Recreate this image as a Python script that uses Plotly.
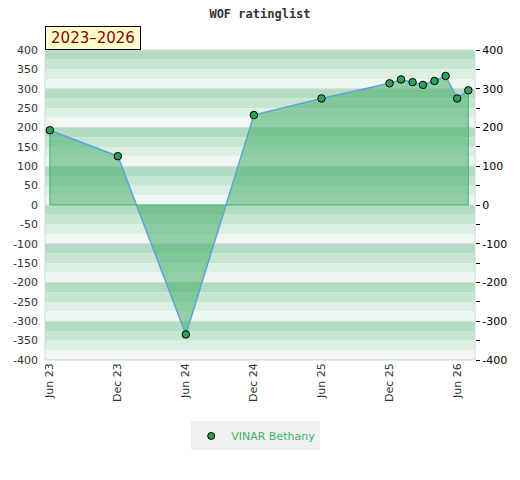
import plotly.graph_objects as go

# monthly rating values
dates = ["2023-06-01", "2023-12-01", "2024-06-01", "2024-12-01", "2025-06-01",
         "2025-12-01", "2026-01-01", "2026-02-01", "2026-03-01", "2026-04-01",
         "2026-05-01", "2026-06-01", "2026-07-01"]
ratings = [193, 126, -334, 232, 275, 314, 324, 317, 310, 320, 333, 275, 296]

player = "VINAR Bethany"
period = "2023\u20132026"

tick_dates = ["2023-06-01", "2023-12-01", "2024-06-01", "2024-12-01",
              "2025-06-01", "2025-12-01", "2026-06-01"]
tick_labels = ["Jun 23", "Dec 23", "Jun 24", "Dec 24", "Jun 25", "Dec 25", "Jun 26"]

left_ticks = list(range(-400, 401, 50))
right_ticks = list(range(-400, 401, 100))

band_colors = ["#b3ddc2", "#c7e6d2", "#dcefe3", "#eff7f2"]  # top to bottom in each 100

fig = go.Figure()

# area + line
fig.add_trace(go.Scatter(
    x=dates, y=ratings, mode="lines", fill="tozeroy",
    fillcolor="rgba(70,175,105,0.55)",
    line=dict(color="#5ea3dc", width=1.5),
    showlegend=False, hoverinfo="skip",
))
# green edge of the filled area (baseline and end verticals)
fig.add_trace(go.Scatter(
    x=[dates[0], dates[0], dates[-1], dates[-1]],
    y=[ratings[0], 0, 0, ratings[-1]],
    mode="lines", line=dict(color="#3cb371", width=1),
    showlegend=False, hoverinfo="skip",
))
fig.add_trace(go.Scatter(
    x=dates, y=ratings, mode="markers",
    marker=dict(color="#2e9e5b", size=7.5, line=dict(color="black", width=1)),
    name=player, showlegend=False,
))
# legend entry (marker only)
fig.add_trace(go.Scatter(
    x=[None], y=[None], mode="markers",
    marker=dict(color="#2e9e5b", size=7, line=dict(color="black", width=1)),
    name=player,
))
# invisible trace to carry the right axis
fig.add_trace(go.Scatter(
    x=[dates[0]], y=[0], yaxis="y2", mode="markers",
    marker=dict(opacity=0), showlegend=False, hoverinfo="skip",
))

shapes = []
for top in range(400, -400, -25):
    idx = ((400 - top) // 25) % 4
    shapes.append(dict(type="rect", xref="paper", yref="y", x0=0, x1=1,
                       y0=top - 25, y1=top, fillcolor=band_colors[idx],
                       line=dict(width=0), layer="below"))
for v in right_ticks:
    shapes.append(dict(type="line", xref="paper", yref="y", x0=0, x1=1,
                       y0=v, y1=v, line=dict(color="#dadada", width=1),
                       layer="below"))
shapes.append(dict(type="rect", xref="paper", yref="paper", x0=0, x1=1,
                   y0=0, y1=1, line=dict(color="#d6d6d6", width=1),
                   layer="below"))

fig.update_layout(
    width=520, height=480,
    margin=dict(l=45, r=45, t=50, b=120),
    paper_bgcolor="white", plot_bgcolor="white",
    font=dict(family="DejaVu Sans", size=11, color="#333333"),
    title=dict(text="<b>WOF ratinglist</b>", x=0.5, xanchor="center",
               y=0.971, yanchor="middle",
               font=dict(family="DejaVu Sans Mono", size=12, color="#333333")),
    xaxis=dict(type="date", range=["2023-05-19", "2026-07-19"],
               tickvals=tick_dates, ticktext=tick_labels, tickangle=-90,
               showgrid=False, zeroline=False, showline=False, ticks=""),
    yaxis=dict(range=[-400, 400], tickvals=left_ticks,
               ticktext=[str(v) for v in left_ticks],
               showgrid=False, zeroline=False, ticks="",
               ticklabelstandoff=6),
    yaxis2=dict(range=[-400, 400], overlaying="y", side="right",
                tickvals=right_ticks, ticktext=[str(v) for v in right_ticks],
                ticks="outside", ticklen=4, tickcolor="black",
                minor=dict(ticks="outside", ticklen=4, tickcolor="black",
                           tickvals=[v + 50 for v in right_ticks[:-1]]),
                showgrid=False, zeroline=False, showline=False,
                tickfont=dict(color="black", size=11)),
    shapes=shapes,
    legend=dict(orientation="h", x=0.49, xanchor="center", y=-0.245,
                yanchor="middle", bgcolor="#f0f0f0", itemwidth=30,
                font=dict(color="#3cb371", size=11)),
    annotations=[dict(text=period, xref="paper", yref="paper", x=0, y=1,
                      xanchor="left", yanchor="bottom", showarrow=False,
                      width=90, height=18,
                      font=dict(family="DejaVu Sans", size=15, color="#8b0000"),
                      bgcolor="#ffffcc", bordercolor="black", borderwidth=1,
                      borderpad=2)],
)

# page body has a default 8px margin; drop it so the figure sits at 0,0
fig.write_html("out.html", config={"displayModeBar": False},
               post_script="document.body.style.margin='0';")
